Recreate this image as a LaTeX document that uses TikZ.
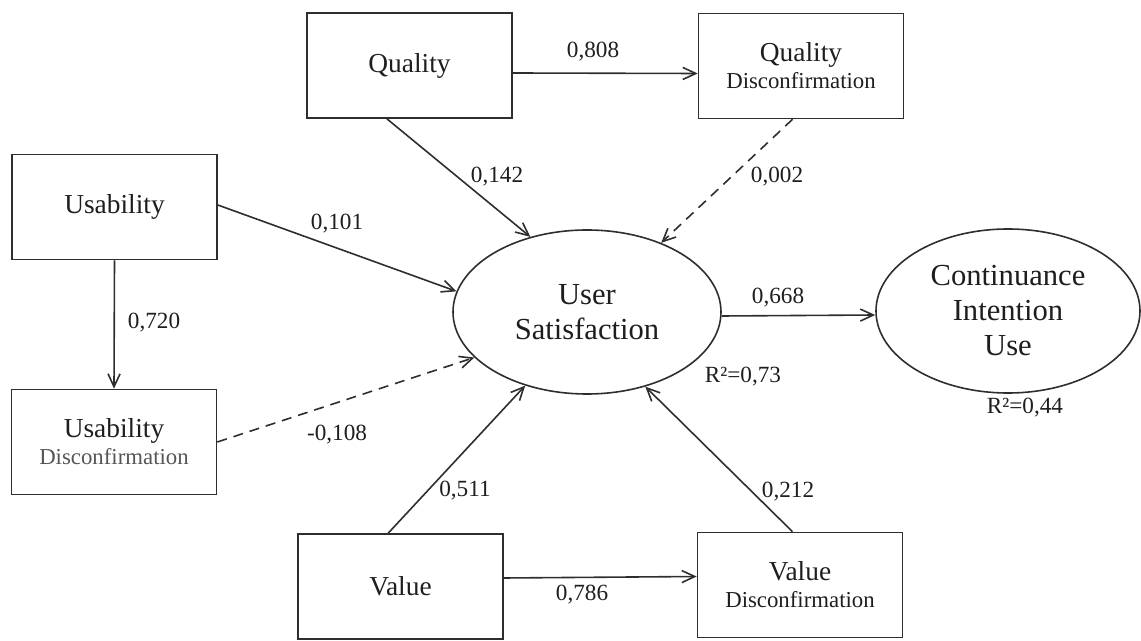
\documentclass[tikz,border=0pt]{standalone}
\usepackage{fontspec}
\setmainfont{Liberation Serif}
\usetikzlibrary{arrows.meta,shapes.geometric}
\definecolor{cLine}{HTML}{2E2E2E}
\definecolor{cText}{HTML}{1E1E1E}
\definecolor{cSoft}{HTML}{555555}
\newcommand{\discfont}{\fontsize{11.4}{13.5}\selectfont}
\tikzset{
  cbox/.style={draw=cLine, line width=0.8pt, text=cText, align=center, inner sep=0pt,
    minimum width=102.5pt, minimum height=52.5pt, font=\fontsize{13.7}{13.5}\selectfont},
  lat/.style={ellipse, draw=cLine, line width=0.8pt, text=cText, align=center, inner sep=0pt,
    minimum height=82pt, font=\fontsize{15.3}{17.5}\selectfont},
  flow/.style={-{Straight Barb[length=6.5pt,width=6pt]}, draw=cLine, line width=0.8pt},
  weak/.style={flow, dash pattern=on 5pt off 3.5pt},
  coef/.style={text=cText, inner sep=0pt, font=\fontsize{11.6}{13}\selectfont},
}

\begin{document}
\begin{tikzpicture}[x=0.5pt, y=-0.5pt]
    \useasboundingbox (0,0) rectangle (1141,641);
    % constructs
    \node[cbox] (qual)  at (409.5,65.5) {Quality};
    \node[cbox] (qdis)  at (801,66)     {Quality\\{\discfont Disconfirmation}};
    \node[cbox] (usab)  at (114.5,207)  {Usability};
    \node[cbox] (udis)  at (114,442)    {Usability\\{\discfont\color{cSoft}Disconfirmation}};
    \node[cbox] (value) at (400.5,586.5) {Value};
    \node[cbox] (vdis)  at (800,585)    {Value\\{\discfont Disconfirmation}};
    \node[lat, minimum width=134pt] (sat) at (587,312)  {User\\Satisfaction};
    \node[lat, minimum width=132pt] (ciu) at (1008,311) {Continuance\\Intention\\Use};
    % paths
    \draw[flow] ([yshift=-3.75pt]qual.east) -- ([yshift=-3.75pt]qdis.west);
    \draw[flow] (usab.south) -- (udis.north);
    \draw[flow] ([yshift=1pt]usab.east) -- (sat.171);
    \draw[weak] (udis.east) -- (sat.202);
    \draw[flow] (qual.247) -- (sat.127);
    \draw[weak] (qdis.261) -- (sat.43);
    \draw[flow] (value.103) -- (sat.230);
    \draw[flow] (vdis.98) -- (sat.308);
    \draw[flow] ([yshift=4.25pt]value.east) -- ([yshift=4.25pt]vdis.west);
    \draw[flow] ([yshift=-2pt]sat.east) -- ([yshift=-2pt]ciu.west);
    % coefficients
    \node[coef] (l808) at (593,52)  {0,808};
    \node[coef] (l720) at (154,323) {0,720};
    \node[coef] (l101) at (337,224) {0,101};
    \node[coef] (l108) at (337,435) {-0,108};
    \node[coef] (l142) at (497,177) {0,142};
    \node[coef] (l002) at (777,177) {0,002};
    \node[coef] (l511) at (465,491) {0,511};
    \node[coef] (l212) at (788,492) {0,212};
    \node[coef] (l786) at (582,595) {0,786};
    \node[coef] (l668) at (778,298) {0,668};
    \node[coef] (r2sat) at (743,377)  {R²=0,73};
    \node[coef] (r2ciu) at (1025,408) {R²=0,44};
\end{tikzpicture}
\end{document}
